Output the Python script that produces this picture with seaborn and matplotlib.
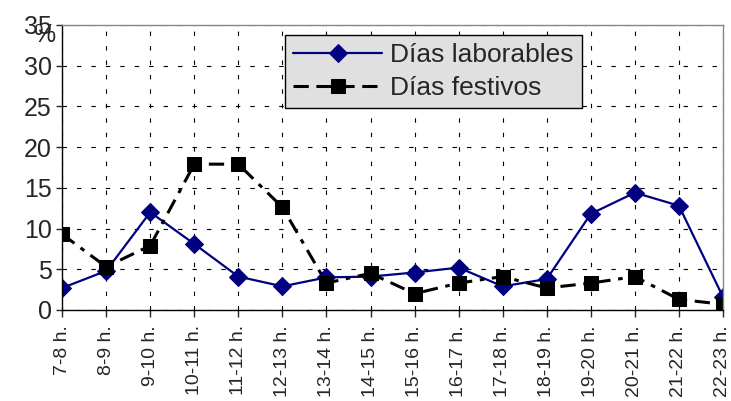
import matplotlib
matplotlib.use('Agg')
import matplotlib.pyplot as plt
import seaborn as sns
import pandas as pd

horas = ['7-8 h.', '8-9 h.', '9-10 h.', '10-11 h.', '11-12 h.', '12-13 h.',
         '13-14 h.', '14-15 h.', '15-16 h.', '16-17 h.', '17-18 h.', '18-19 h.',
         '19-20 h.', '20-21 h.', '21-22 h.', '22-23 h.']
laborables = [2.7, 4.8, 12.0, 8.1, 4.1, 2.9, 4.0, 4.1, 4.6, 5.2, 2.9, 3.8, 11.8, 14.4, 12.8, 1.6]
festivos = [9.3, 5.3, 7.9, 17.9, 17.9, 12.6, 3.3, 4.5, 2.0, 3.3, 4.1, 2.7, 3.3, 4.1, 1.3, 0.7]
yticks = [0, 5, 10, 15, 20, 25, 30, 35]

sns.set_style('white')
plt.rcParams['font.family'] = ['Liberation Sans', 'DejaVu Sans']

df = pd.DataFrame({'pos': range(len(horas)), 'lab': laborables, 'fes': festivos})

fig = plt.figure(figsize=(7.31, 4.01), dpi=100)
ax = fig.add_axes([0.085, 0.227, 0.904, 0.711])

sns.lineplot(data=df, x='pos', y='lab', ax=ax, color='#000080', lw=1.6,
             marker='D', markersize=9.5, markeredgecolor='#000080',
             label='Días laborables')
sns.lineplot(data=df, x='pos', y='fes', ax=ax, color='black', lw=2.2,
             marker='s', markersize=10, markeredgecolor='black',
             label='Días festivos')
ax.lines[-1].set_dashes((5, 2.5, 1.5, 2.5))

ax.set_xlim(0, len(horas) - 1)
ax.set_ylim(0, 35)
ax.set_xticks(range(len(horas)))
ax.set_xticklabels(horas, rotation=90, fontsize=14)
ax.set_yticks(yticks)
ax.tick_params(axis='y', labelsize=18, length=4, direction='out', left=True, width=1)
ax.tick_params(axis='x', length=5, direction='out', bottom=True, width=1, pad=6)
ax.set_xlabel('')
ax.set_ylabel('')
ax.grid(True, color='black', ls=(0, (4, 9)), lw=0.8)
for s in ax.spines.values():
    s.set_color('black')
    s.set_linewidth(1)
ax.spines['top'].set_color('#888888')
ax.spines['right'].set_color('#888888')
fig.text(0.045, 0.895, '%', fontsize=18)

leg = ax.legend(loc='upper left', bbox_to_anchor=(0.337, 0.965), fontsize=19,
                frameon=True, fancybox=False, facecolor='#e0e0e0', edgecolor='black',
                framealpha=1, handlelength=3.4, borderpad=0.3, labelspacing=0.35,
                handletextpad=0.3, borderaxespad=0)
leg.get_frame().set_linewidth(1)
leg.legend_handles[1].set_dashes((5, 2.5))

fig.savefig('out.png', dpi=100)
